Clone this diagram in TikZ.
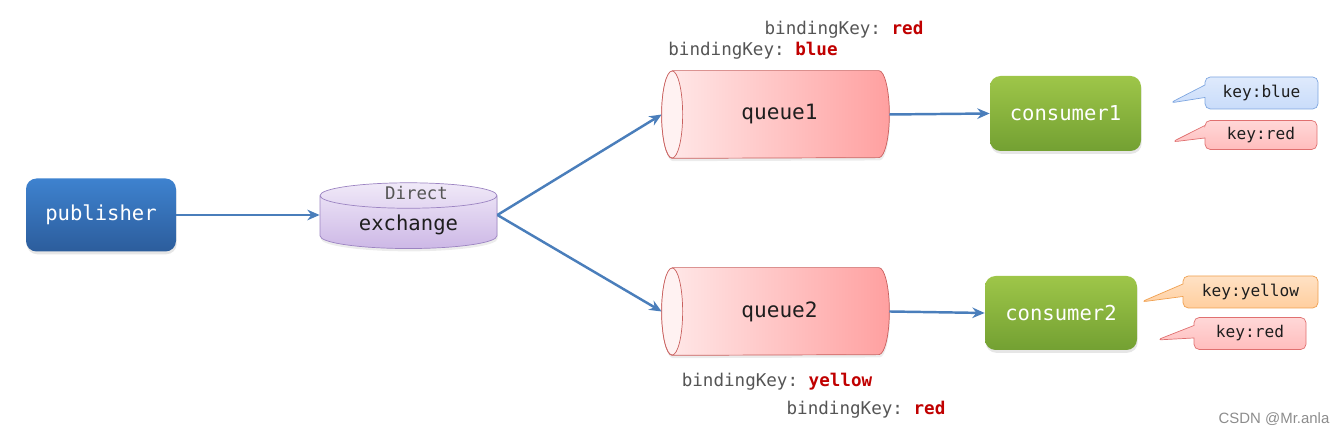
\documentclass[tikz,border=0pt]{standalone}
\usepackage{fontspec}
\setmonofont{DejaVu Sans Mono}
\newfontfamily\wmfont{Liberation Sans}
\usetikzlibrary{arrows.meta,shapes.geometric,shapes.callouts,shadows,backgrounds}
\definecolor{ink}{HTML}{1E1E1E}
\definecolor{flowblue}{HTML}{4A7EBB}
\definecolor{pubtop}{HTML}{3E82CF}
\definecolor{pubbot}{HTML}{2C5D9C}
\definecolor{contop}{HTML}{9EC649}
\definecolor{conbot}{HTML}{73A032}
\definecolor{qleft}{HTML}{FFEAEA}
\definecolor{qright}{HTML}{FFA0A0}
\definecolor{qface}{HTML}{FFF2F2}
\definecolor{qline}{HTML}{C9605E}
\definecolor{extop}{HTML}{F0E9F8}
\definecolor{exbot}{HTML}{CDB8E6}
\definecolor{exline}{HTML}{9C84C2}
\definecolor{bkgray}{HTML}{555555}
\definecolor{bkred}{HTML}{C00000}
\definecolor{tagblue}{HTML}{C9DCFA}
\definecolor{tagblueline}{HTML}{7EA6E0}
\definecolor{tagred}{HTML}{FFBDBD}
\definecolor{tagredline}{HTML}{E07070}
\definecolor{tagorange}{HTML}{FFCE9E}
\definecolor{tagorangeline}{HTML}{F0A050}

\begin{document}
\begin{tikzpicture}[font=\ttfamily,text=ink,>={Stealth[length=7pt,width=6pt]},
  box/.style={rounded corners=6pt,minimum width=3cm,minimum height=1.46cm,text=white,
    font=\ttfamily\fontsize{11.7}{13}\selectfont,
    drop shadow={opacity=.2,shadow xshift=.4pt,shadow yshift=-1.6pt}},
  queue/.style={rectangle,inner sep=0pt,minimum width=4.54cm,minimum height=1.74cm,
    font=\ttfamily\fontsize{12}{14}\selectfont},
  flow/.style={->,draw=flowblue,line width=1.4pt},
  tag/.style={rectangle callout,rounded corners=3pt,minimum height=.64cm,
    inner xsep=8pt,font=\ttfamily\fontsize{9.2}{11}\selectfont},
  bind/.style={text=bkgray,font=\ttfamily\fontsize{10}{12}\selectfont}]
  \useasboundingbox (0,0) rectangle (26.72,8.70);

  \node[box,top color=pubtop,bottom color=pubbot] (publisher) at (2.02,4.40) {publisher};
  \node[cylinder,shape border rotate=90,aspect=.23,draw=exline,top color=extop,bottom color=exbot,
    minimum width=3.54cm,minimum height=1.24cm,font=\ttfamily\fontsize{11.7}{13}\selectfont,
    drop shadow={opacity=.15,shadow xshift=.4pt,shadow yshift=-1.6pt}] (exchange) at (8.17,4.21) {exchange};
  \node[text=bkgray,font=\ttfamily\fontsize{9.9}{12}\selectfont] (direct) at (8.33,4.84) {Direct};

  \node[queue] (queue1) at (15.51,6.41) {\hspace{1.6mm}queue1};
  \node[queue] (queue2) at (15.51,2.47) {\hspace{1.6mm}queue2};
  \begin{scope}[on background layer]
    \foreach \q in {queue1,queue2}{
      \draw[qline,left color=qleft,right color=qright,
        drop shadow={opacity=.15,shadow xshift=.4pt,shadow yshift=-1.6pt}]
        ([xshift=2.1mm]\q.north west) -- ([xshift=-2.1mm]\q.north east)
        arc[start angle=90,end angle=-90,x radius=2.1mm,y radius=8.7mm]
        -- ([xshift=2.1mm]\q.south west)
        arc[start angle=270,end angle=90,x radius=2.1mm,y radius=8.7mm] -- cycle;
      \draw[qline,fill=qface] ([xshift=2.1mm]\q.west) ellipse[x radius=2.1mm,y radius=8.7mm];
    }
  \end{scope}

  \node[box,top color=contop,bottom color=conbot,minimum width=3.02cm,minimum height=1.5cm] (consumer1) at (21.31,6.43) {consumer1};
  \node[box,top color=contop,bottom color=conbot,minimum width=3.04cm,minimum height=1.48cm] (consumer2) at (21.22,2.44) {consumer2};

  \draw[flow] (publisher.east) -- (exchange.west |- publisher.east);
  \draw[flow] (exchange.east |- publisher.east) -- (queue1.west);
  \draw[flow] (exchange.east |- publisher.east) -- (queue2.west);
  \draw[flow] (queue1.east) -- (consumer1.west);
  \draw[flow] (queue2.east) -- (consumer2.west);

  \node[bind] (bindred1) at (16.88,8.10) {bindingKey: \textcolor{bkred}{\bfseries red}};
  \node[bind] (bindblue) at (15.06,7.68) {bindingKey: \textcolor{bkred}{\bfseries blue}};
  \node[bind] (bindyellow) at (15.54,1.06) {bindingKey: \textcolor{bkred}{\bfseries yellow}};
  \node[bind] (bindred2) at (17.32,0.50) {bindingKey: \textcolor{bkred}{\bfseries red}};

  \coordinate (tipblue) at (23.40,6.64);
  \coordinate (tipred1) at (23.44,5.86);
  \coordinate (tipyellow) at (22.82,2.66);
  \coordinate (tipred2) at (23.14,1.90);
  \node[tag,draw=tagblueline,top color=white!40!tagblue,bottom color=tagblue,minimum width=2.26cm,
    callout absolute pointer={(tipblue)}] (keyblue) at (25.23,6.84) {key:blue};
  \node[tag,draw=tagredline,top color=white!40!tagred,bottom color=tagred,minimum width=2.24cm,minimum height=.58cm,
    callout absolute pointer={(tipred1)}] (keyred1) at (25.22,6.00) {key:red};
  \node[tag,draw=tagorangeline,top color=white!40!tagorange,bottom color=tagorange,minimum width=2.7cm,
    callout absolute pointer={(tipyellow)}] (keyyellow) at (25.01,2.86) {key:yellow};
  \node[tag,draw=tagredline,top color=white!40!tagred,bottom color=tagred,minimum width=2.24cm,
    callout absolute pointer={(tipred2)}] (keyred2) at (25.00,2.03) {key:red};

  \node[text=black!45,font=\wmfont\fontsize{8.5}{10}\selectfont] (mark) at (25.48,0.32) {CSDN @Mr.anla};
\end{tikzpicture}
\end{document}
